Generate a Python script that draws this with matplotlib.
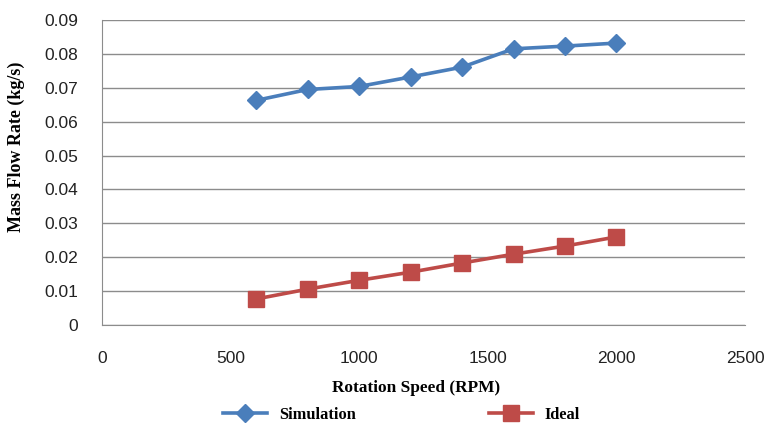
import numpy as np
import matplotlib
matplotlib.use('Agg')
import matplotlib.pyplot as plt

# rotation speed (RPM) and mass flow rate (kg/s)
rpm = [600, 800, 1000, 1200, 1400, 1600, 1800, 2000]
sim_flow = [0.0663, 0.0695, 0.0704, 0.0732, 0.0761, 0.0815, 0.0823, 0.0832]
ideal_flow = [0.0077, 0.0106, 0.0132, 0.0156, 0.0183, 0.0209, 0.0233, 0.0260]

xticks = [0, 500, 1000, 1500, 2000, 2500]
yticks = [0, 0.01, 0.02, 0.03, 0.04, 0.05, 0.06, 0.07, 0.08, 0.09]
ytick_labels = ['0', '0.01', '0.02', '0.03', '0.04', '0.05', '0.06', '0.07', '0.08', '0.09']

fig = plt.figure(figsize=(7.72, 4.26), dpi=100)
ax = fig.add_axes([0.1321, 0.237, 0.8329, 0.716])

ax.plot(rpm, sim_flow, color='#4A7EBB', lw=2.6, marker='D', ms=9.5, label='Simulation', zorder=3)
ax.plot(rpm, ideal_flow, color='#BE4B48', lw=2.6, marker='s', ms=12, label='Ideal', zorder=3)

ax.set_xlim(0, 2500)
ax.set_ylim(0, 0.09)
ax.set_xticks(xticks)
ax.set_yticks(yticks)
ax.set_yticklabels(ytick_labels)
ax.grid(axis='y', color='#8C8C8C', lw=1.0)
ax.set_axisbelow(True)
for s in ['top', 'right']:
    ax.spines[s].set_visible(False)
for s in ['left', 'bottom']:
    ax.spines[s].set_color('#8C8C8C')
ax.tick_params(length=0, labelsize=12.5)
ax.tick_params(axis='y', pad=17)
ax.tick_params(axis='x', pad=19)
for lab in ax.get_xticklabels() + ax.get_yticklabels():
    lab.set_family('Liberation Sans')
    lab.set_color('#222222')

fig.text(0.539, 0.09, 'Rotation Speed (RPM)', ha='center', va='center',
         family='Liberation Serif', weight='bold', fontsize=12.4)
fig.text(0.021, 0.655, 'Mass Flow Rate (kg/s)', ha='center', va='center', rotation=90,
         family='Liberation Serif', weight='bold', fontsize=13)

fig.legend(loc='center', bbox_to_anchor=(0.52, 0.026), ncol=2, frameon=False,
           handlelength=2.7, columnspacing=8.1, handletextpad=0.7,
           prop={'family': 'Liberation Serif', 'weight': 'bold', 'size': 11.8})

fig.savefig('out.png', dpi=100)
